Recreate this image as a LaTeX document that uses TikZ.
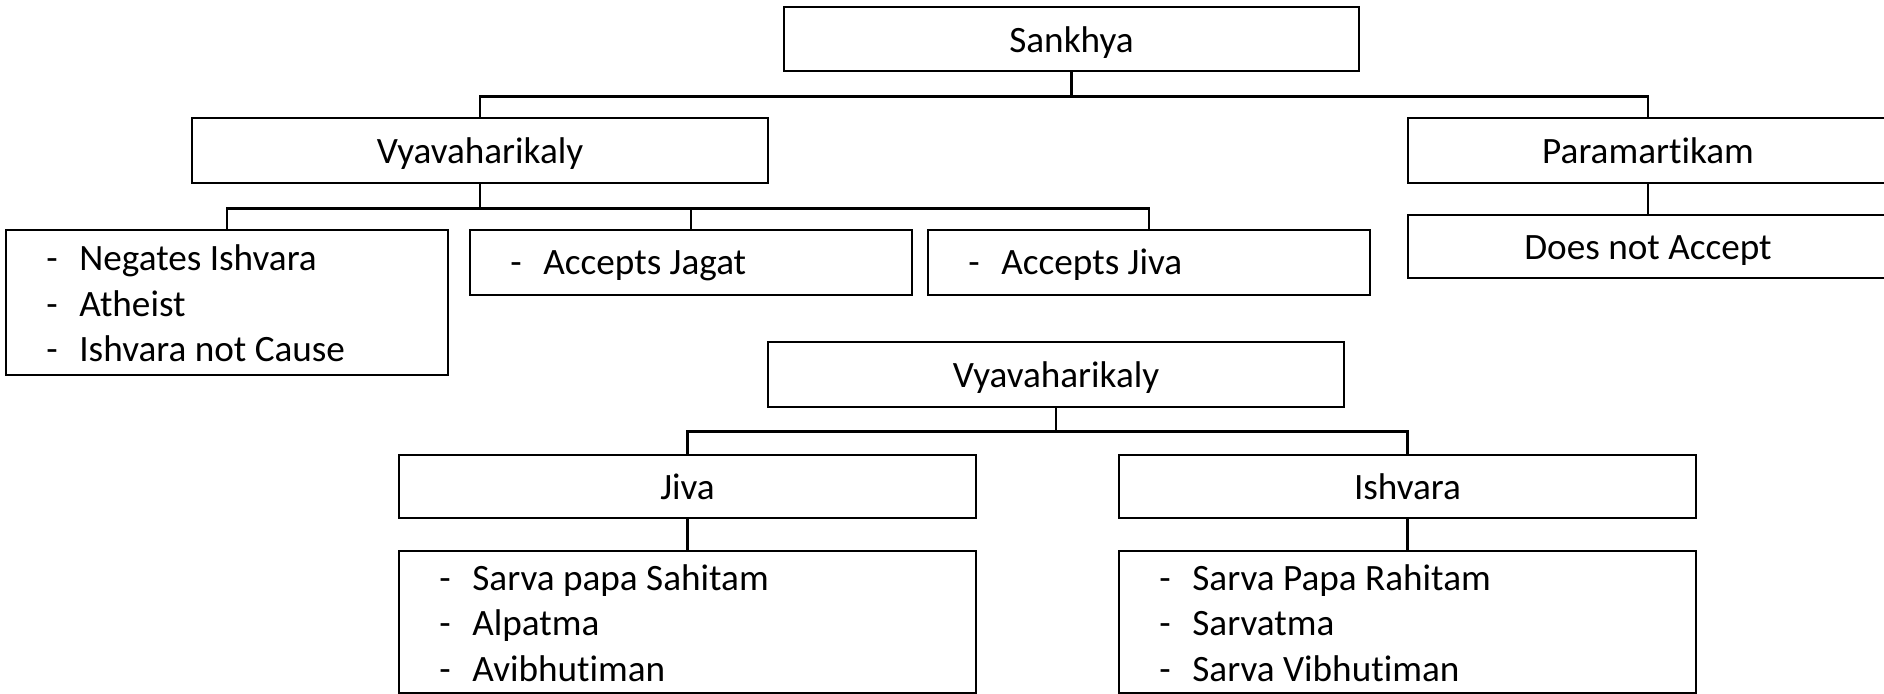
\documentclass[tikz,border=0pt]{standalone}
\usepackage{fontspec}
\setmainfont[Ligatures=NoCommon]{Carlito}
\begin{document}
\begin{tikzpicture}[x=0.5pt,y=-0.5pt,
  box/.style={draw=black, line width=1.4pt, rectangle, inner sep=0pt,
    text height=17.5pt, text depth=4pt,
    font=\fontsize{18.6pt}{22.75pt}\selectfont},
  sz/.style 2 args={minimum width=#1*0.5pt, minimum height=#2*0.5pt},
  link/.style={line width=1.4pt},
  listtext/.style={inner sep=0pt, anchor=base west,
    font=\fontsize{18.6pt}{22.75pt}\selectfont}]
\useasboundingbox (0,0) rectangle (1884,694);
\clip (0,0) rectangle (1884,694);

% upper tree
\node[box, sz={575}{64}] (sankhya) at (1071.5,39) {Sankhya};
\node[box, sz={576}{65}] (vyavA) at (480,150.5) {Vyavaharikaly};
\node[box, sz={480}{65}] (para) at (1648,150.5) {Paramartikam};
\node[box, sz={480}{63}] (notacc) at (1648,246.5) {Does not Accept};
\node[box, sz={442}{145}] (neg) at (227,302.5) {};
\node[box, sz={442}{65}] (jagat) at (691,262.5) {};
\node[box, sz={442}{65}] (jivaacc) at (1149,262.5) {};

% lower tree
\node[box, sz={576}{65}] (vyavB) at (1056,374.5) {Vyavaharikaly};
\node[box, sz={577}{63}] (jiva) at (687.5,486.5) {Jiva};
\node[box, sz={577}{63}] (ishvara) at (1407.5,486.5) {Ishvara};
\node[box, sz={577}{142}] (jivalist) at (687.5,622) {};
\node[box, sz={577}{142}] (ishlist) at (1407.5,622) {};

% bulleted texts
\node[listtext] (negT) at (46,271) {\begin{tabular}[t]{@{}p{16.5pt}@{}l@{}}
  -&Negates Ishvara\\ -&Atheist\\ -&Ishvara not Cause\end{tabular}};
\node[listtext] (jagatT) at (510,275) {\begin{tabular}[t]{@{}p{16.5pt}@{}l@{}}
  -&Accepts Jagat\end{tabular}};
\node[listtext] (jivaaccT) at (968,275) {\begin{tabular}[t]{@{}p{16.5pt}@{}l@{}}
  -&Accepts Jiva\end{tabular}};
\node[listtext] (jivalistT) at (439,590) {\begin{tabular}[t]{@{}p{16.5pt}@{}l@{}}
  -&Sarva papa Sahitam\\ -&Alpatma\\ -&Avibhutiman\end{tabular}};
\node[listtext] (ishlistT) at (1159,590) {\begin{tabular}[t]{@{}p{16.5pt}@{}l@{}}
  -&Sarva Papa Rahitam\\ -&Sarvatma\\ -&Sarva Vibhutiman\end{tabular}};

% connectors
\draw[link] (sankhya.south) -- ++(0,24) coordinate (busA) -| (vyavA.north);
\draw[link] (busA) -| (para.north);
\draw[link] (vyavA.south) -- ++(0,24) coordinate (busB) -| (neg.north);
\draw[link] (busB) -| (jagat.north);
\draw[link] (busB) -| (jivaacc.north);
\draw[link] (para.south) -- (notacc.north);
\draw[link] (vyavB.south) -- ++(0,23) coordinate (busC) -| (jiva.north);
\draw[link] (busC) -| (ishvara.north);
\draw[link] (jiva.south) -- (jivalist.north);
\draw[link] (ishvara.south) -- (ishlist.north);
\end{tikzpicture}
\end{document}
